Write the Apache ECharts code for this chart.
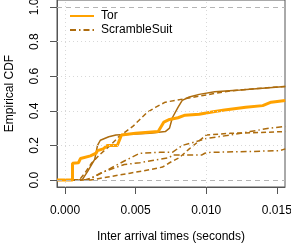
<!DOCTYPE html>
<html><head><meta charset="utf-8">
<script src="https://cdn.jsdelivr.net/npm/echarts@6/dist/echarts.min.js"></script>
<style>html,body{margin:0;padding:0;background:#fff}#c{width:291px;height:244px}</style>
</head><body><div id="c"></div>
<script>
// Tick values
const xTicks = [0, 0.005, 0.010, 0.015];
const xTickLabels = ["0.000", "0.005", "0.010", "0.015"];
const yTicks = [0, 0.2, 0.4, 0.6, 0.8, 1.0];
const yTickLabels = ["0.0", "0.2", "0.4", "0.6", "0.8", "1.0"];

// Tor ECDF
const torX = [-0.00057, 0.00053, 0.00053, 0.00095, 0.0011, 0.0018, 0.0022, 0.0023, 0.0027, 0.0030, 0.0037, 0.0039, 0.0040, 0.0050, 0.0066, 0.0070, 0.0074, 0.0080, 0.0085, 0.0095, 0.0105, 0.0113, 0.0128, 0.0140, 0.0146, 0.0156];
const torY = [0, 0, 0.097, 0.10, 0.125, 0.14, 0.155, 0.17, 0.18, 0.20, 0.20, 0.24, 0.26, 0.27, 0.28, 0.335, 0.35, 0.36, 0.375, 0.38, 0.395, 0.405, 0.42, 0.43, 0.45, 0.46];

// ScrambleSuit ECDFs (several runs)
const ss1X = [-0.00057, 0.0010, 0.0014, 0.0019, 0.0025, 0.0032, 0.0038, 0.0043, 0.0048, 0.0053, 0.0058, 0.0064, 0.0071, 0.0085, 0.0095, 0.0106, 0.0117, 0.0131, 0.0145, 0.0156];
const ss1Y = [0, 0, 0.04, 0.10, 0.15, 0.20, 0.25, 0.28, 0.31, 0.35, 0.39, 0.42, 0.45, 0.47, 0.485, 0.50, 0.515, 0.525, 0.535, 0.54];
const ss2X = [-0.00057, 0.0012, 0.0016, 0.0021, 0.0023, 0.0025, 0.0031, 0.0036, 0.0046, 0.0060, 0.0071, 0.0074, 0.0076, 0.0080, 0.0083, 0.0088, 0.0095, 0.0106, 0.0124, 0.0156];
const ss2Y = [0, 0, 0.05, 0.12, 0.20, 0.23, 0.25, 0.26, 0.265, 0.27, 0.28, 0.30, 0.36, 0.42, 0.46, 0.48, 0.495, 0.51, 0.52, 0.54];
const ss3X = [-0.00057, 0.0014, 0.0021, 0.0028, 0.0035, 0.0042, 0.0053, 0.0067, 0.0076, 0.0083, 0.0092, 0.0100, 0.0117, 0.0131, 0.0145, 0.0156];
const ss3Y = [0, 0, 0.02, 0.05, 0.08, 0.11, 0.155, 0.16, 0.16, 0.20, 0.22, 0.24, 0.26, 0.28, 0.30, 0.31];
const ss4X = [-0.00057, 0.0018, 0.0032, 0.0046, 0.0060, 0.0069, 0.0074, 0.0081, 0.0088, 0.0100, 0.0117, 0.0138, 0.0156];
const ss4Y = [0, 0, 0.02, 0.04, 0.06, 0.075, 0.10, 0.13, 0.18, 0.26, 0.27, 0.275, 0.28];
const ss5X = [-0.00057, 0.0016, 0.0025, 0.0035, 0.0042, 0.0053, 0.0074, 0.0076, 0.0097, 0.0099, 0.0103, 0.0131, 0.0152, 0.0156];
const ss5Y = [0, 0, 0.04, 0.07, 0.09, 0.10, 0.13, 0.145, 0.145, 0.155, 0.16, 0.165, 0.17, 0.18];

const zip = (a, b) => a.map((v, i) => [v, b[i]]);
const brown = '#ad6c0e';
const dashDot = [6, 3, 1.5, 3];
const ssSeries = [
  {x: ss3X, y: ss3Y, type: dashDot},
  {x: ss1X, y: ss1Y, type: [5, 3]},
  {x: ss2X, y: ss2Y, type: 'solid'},
  {x: ss4X, y: ss4Y, type: [5, 3]},
  {x: ss5X, y: ss5Y, type: dashDot}
].map(s => ({
  name: 'ScrambleSuit', type: 'line', symbol: 'none', silent: true,
  data: zip(s.x, s.y), lineStyle: {color: brown, width: 1.5, type: s.type}, itemStyle: {color: brown}, z: 3
}));

const chart = echarts.init(document.getElementById('c'), null, {renderer: 'canvas'});
const font = 'Liberation Sans, Arial, sans-serif';
const tickFmt = (ticks, labels) => v => labels[ticks.findIndex(t => Math.abs(t - v) < 1e-9)] || '';
chart.setOption({
  animation: false,
  grid: {left: 57, right: 6, top: 0, bottom: 57, show: true, borderColor: '#555', borderWidth: 1, backgroundColor: 'transparent', containLabel: false, outerBoundsMode: 'none'},
  legend: {
    left: 64, top: 5, orient: 'vertical', itemWidth: 24, itemHeight: 12, itemGap: 2,
    data: [
      {name: 'Tor', itemStyle: {opacity: 0}},
      {name: 'ScrambleSuit', itemStyle: {opacity: 0}}
    ],
    textStyle: {fontFamily: font, fontSize: 12, color: '#000', padding: [0, 0, 0, 2]},
    selectedMode: false
  },
  xAxis: {
    type: 'value', min: -0.00057, max: 0.01558,
    name: 'Inter arrival times (seconds)', nameLocation: 'middle', nameGap: 44,
    nameTextStyle: {fontFamily: font, fontSize: 12, color: '#000'},
    axisLine: {show: true, onZero: false, lineStyle: {color: '#555'}},
    axisTick: {show: true, inside: false, length: 7, lineStyle: {color: '#555', width: 1}, customValues: xTicks},
    axisLabel: {customValues: xTicks, formatter: tickFmt(xTicks, xTickLabels), fontFamily: font, fontSize: 12, color: '#000', margin: 18},
    splitLine: {show: false}
  },
  yAxis: {
    type: 'value', min: -0.04, max: 1.04,
    name: 'Empirical CDF', nameLocation: 'middle', nameGap: 41,
    nameTextStyle: {fontFamily: font, fontSize: 12, color: '#000'},
    axisLine: {show: true, onZero: false, lineStyle: {color: '#555'}},
    axisTick: {show: true, inside: false, length: 7, lineStyle: {color: '#555', width: 1}, customValues: yTicks},
    axisLabel: {customValues: yTicks, rotate: 90, align: 'center', verticalAlign: 'bottom', formatter: tickFmt(yTicks, yTickLabels), fontFamily: font, fontSize: 12, color: '#000', margin: 16},
    splitLine: {show: false}
  },
  series: [
    {
      name: 'grid', type: 'line', data: [], silent: true,
      markLine: {
        silent: true, symbol: 'none', label: {show: false},
        lineStyle: {color: '#d8d8d8', type: [1, 3], width: 1},
        data: xTicks.map(v => ({xAxis: v})).concat(yTicks.slice(1, -1).map(v => ({yAxis: v})))
      }
    },
    {
      name: 'refs', type: 'line', data: [], silent: true,
      markLine: {
        silent: true, symbol: 'none', label: {show: false},
        lineStyle: {color: '#b5b5b5', type: [5, 4], width: 1.2},
        data: [{yAxis: 0}, {yAxis: 1}]
      }
    },
    ...ssSeries,
    {
      name: 'Tor', type: 'line', symbol: 'none', silent: true, data: zip(torX, torY),
      lineStyle: {color: '#ffa200', width: 3}, itemStyle: {color: '#ffa200'}, z: 4
    }
  ]
});
</script></body></html>
